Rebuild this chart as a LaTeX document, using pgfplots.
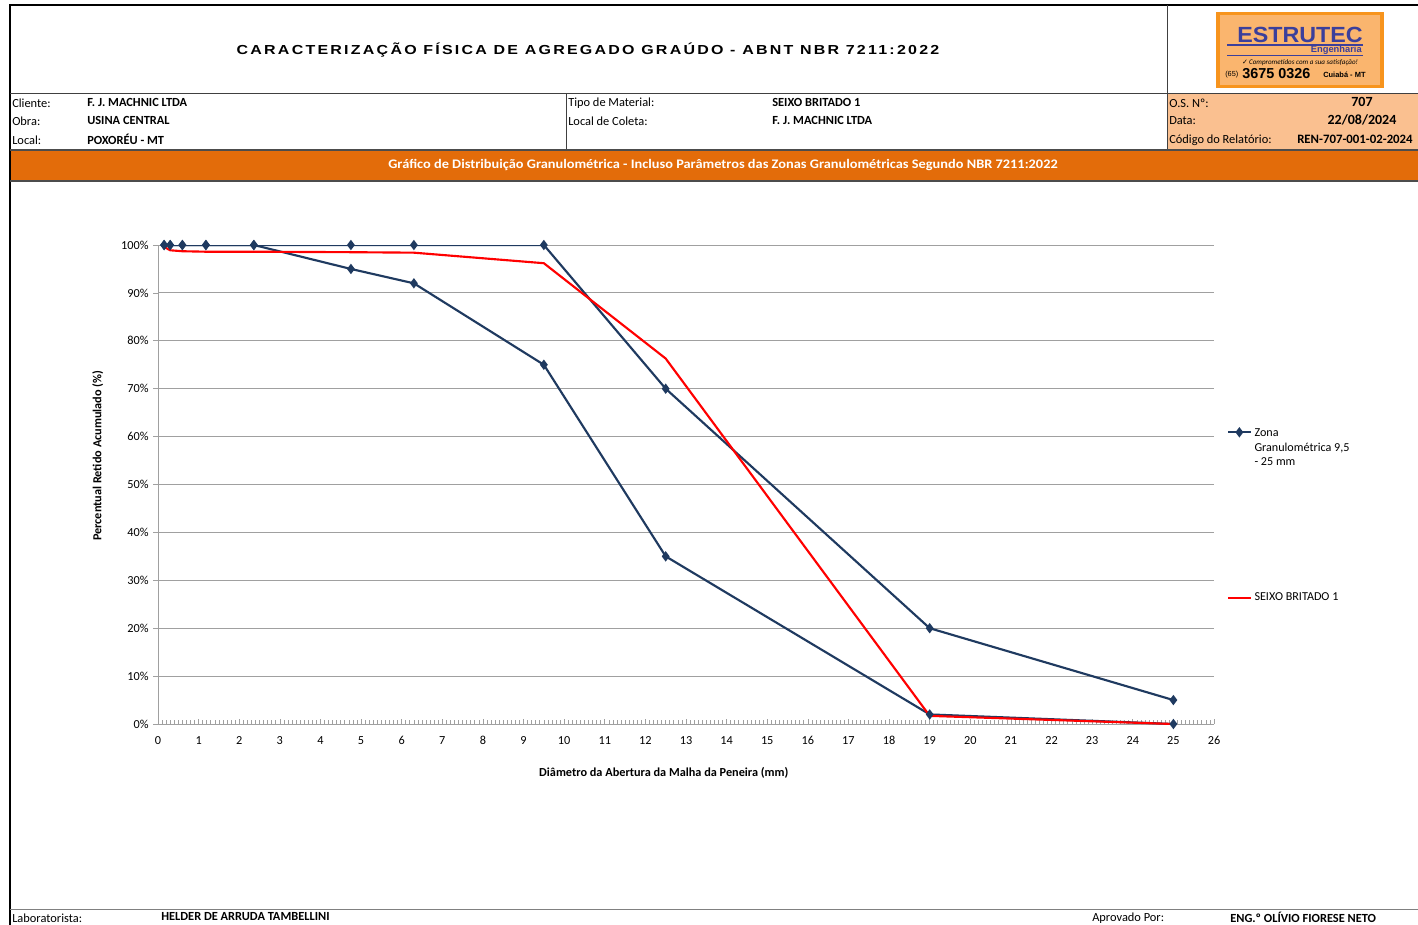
\documentclass[border=0pt]{standalone}
\usepackage{pgfplots}
\pgfplotsset{compat=1.18}
\usepackage{fontspec}
\setmainfont{Carlito}
\newfontfamily\titlefont[LetterSpace=14]{Liberation Sans}
\newfontfamily\dejavu{DejaVu Sans}
\newfontfamily\logofont{Liberation Sans}
\definecolor{navy}{HTML}{1F3A60}
\definecolor{exred}{HTML}{FF0000}
\definecolor{barorange}{HTML}{E36C0A}
\definecolor{peach}{HTML}{FAC090}
\definecolor{gridgray}{HTML}{A0A0A0}
\definecolor{logoorange}{HTML}{F7941D}
\definecolor{logoinner}{HTML}{FAB56E}
\definecolor{logoblue}{HTML}{3B3F9B}

\pgfplotstableread{
x y
0.15 100
0.3 100
0.6 100
1.18 100
2.36 100
4.75 100
6.3 100
9.5 100
12.5 70
19 20
25 5
}\upperzone
\pgfplotstableread{
x y
0.15 100
0.3 100
0.6 100
1.18 100
2.36 100
4.75 95
6.3 92
9.5 75
12.5 35
19 2
25 0
}\lowerzone
\pgfplotstableread{
x y
0.15 99.6
0.3 98.9
0.6 98.7
1.18 98.6
2.36 98.6
4.75 98.5
6.3 98.4
9.5 96.2
12.5 76.3
19 1.7
25 0
}\seixo

\begin{document}
\begin{tikzpicture}
\begin{scope}[x=0.75pt,y=-0.75pt]
\useasboundingbox (0,0) rectangle (1418,925);
\fill[white] (0,0) rectangle (1418,925);
% shaded blocks
\fill[peach] (1167,93) rectangle (1418,150);
\fill[barorange] (10,150) rectangle (1418,181);
% frame lines
\draw[line width=1.5pt] (10,925) -- (10,5) -- (1418,5);
\draw[line width=0.6pt, black!75] (10,93) -- (1418,93);
\draw[line width=0.6pt, black!75] (1167,5) -- (1167,150);
\draw[line width=0.6pt, black!75] (566,93) -- (566,150);
\draw[line width=0.8pt, black!70] (10,150) -- (1418,150);
\draw[line width=0.8pt, black!70] (10,181) -- (1418,181);
\draw[line width=0.6pt, gray] (10,909) -- (1418,909);
% title
\node[anchor=center, inner sep=0pt] at (588,50) {\resizebox{527pt}{\height}{\fontsize{9.8pt}{11pt}\titlefont\bfseries CARACTERIZAÇÃO FÍSICA DE AGREGADO GRAÚDO - ABNT NBR 7211:2022}};
% logo
\fill[logoorange] (1216,12) rectangle (1384,88);
\fill[logoinner] (1220,15) rectangle (1380,85);
\node[logoblue, inner sep=0pt] at (1300,35) {\resizebox{94pt}{11.5pt}{\fontsize{14pt}{14pt}\logofont\bfseries ESTRUTEC}};
\draw[logoblue, line width=1pt] (1227,45) -- (1363,45);
\node[logoblue, inner sep=0pt, anchor=east] at (1362,50.5) {\fontsize{7pt}{7pt}\logofont\bfseries Engenharia};
\draw[logoblue, line width=0.8pt] (1227,55.5) -- (1363,55.5);
\node[inner sep=0pt] at (1300,63) {\fontsize{5.3pt}{5.3pt}\selectfont{\dejavu ✓}\,\itshape Comprometidos com a sua satisfação!};
\node[inner sep=0pt, anchor=west] at (1225,75) {\fontsize{5.5pt}{5.5pt}\logofont (65)};
\node[inner sep=0pt, anchor=west] at (1242,74) {\fontsize{10.8pt}{10.8pt}\logofont\bfseries 3675 0326};
\node[inner sep=0pt, anchor=west] at (1323,75) {\fontsize{5.6pt}{5.6pt}\logofont\bfseries Cuiabá - MT};
% info rows
\begin{scope}[every node/.style={inner sep=0pt, anchor=west, font=\fontsize{9.3pt}{10pt}\selectfont}]
\node at (12,103) {Cliente:};
\node at (12,121) {Obra:};
\node at (12,140) {Local:};
\node at (87,102) {\bfseries F. J. MACHNIC LTDA};
\node at (87,120) {\bfseries USINA CENTRAL};
\node at (87,139) {\bfseries POXORÉU - MT};
\node at (568,103) {Tipo de Material:};
\node at (568,121) {Local de Coleta:};
\node at (772,102) {\bfseries SEIXO BRITADO 1};
\node at (772,120) {\bfseries F. J. MACHNIC LTDA};
\node at (1169,103) {O.S. Nº:};
\node at (1169,121) {Data:};
\node at (1169,140) {Código do Relatório:};
\node at (1297,139) {\fontsize{9.6pt}{11pt}\bfseries REN-707-001-02-2024};
\node at (12,918) {Laboratorista:};
\node at (161,917) {\bfseries HELDER DE ARRUDA TAMBELLINI};
\node at (1092,918) {Aprovado Por:};
\node at (1230,917) {\bfseries ENG.º OLÍVIO FIORESE NETO};
\end{scope}
\node[inner sep=0pt] at (1362,102) {\fontsize{10.5pt}{11pt}\selectfont\bfseries 707};
\node[inner sep=0pt] at (1362,120) {\fontsize{10.5pt}{11pt}\selectfont\bfseries 22/08/2024};
% orange bar text
\node[inner sep=0pt, text=white] at (723,165) {\resizebox{502pt}{\height}{\fontsize{9.8pt}{11pt}\selectfont\bfseries Gráfico de Distribuição Granulométrica - Incluso Parâmetros das Zonas Granulométricas Segundo NBR 7211:2022}};
\end{scope}

\begin{axis}[
  at={(118.5pt,-543pt)}, anchor=south west,
  scale only axis, width=792pt, height=359.25pt,
  xmin=0, xmax=26, ymin=0, ymax=100,
  axis lines*=left,
  axis line style={-, gridgray, line width=0.7pt},
  xtick={0,1,...,26}, minor x tick num=9,
  ytick={0,10,...,100},
  xtick align=inside, ytick align=outside,
  major tick length=3.5pt, minor tick length=3pt,
  tick style={gridgray, line width=0.5pt},
  yticklabel={\pgfmathprintnumber{\tick}\%},
  ymajorgrids, grid style={gridgray, line width=0.7pt},
  every tick label/.append style={font=\fontsize{9.2pt}{10pt}\selectfont},
  xticklabel style={anchor=base, yshift=-15pt},
  /pgf/number format/assume math mode=true,
  xlabel={\bfseries Diâmetro da Abertura da Malha da Peneira (mm)},
  ylabel={\bfseries Percentual Retido Acumulado (\%)},
  xlabel style={at={(axis description cs:0.479,-0.102)}, anchor=center, font=\fontsize{9.2pt}{10pt}\selectfont},
  ylabel style={at={(axis description cs:-0.057,0.56)}, anchor=center, font=\fontsize{9.2pt}{10pt}\selectfont},
  legend style={at={(1.012,0.628)}, anchor=north west, draw=none, fill=none,
    font=\fontsize{9.1pt}{11pt}\selectfont, row sep=112pt, inner sep=0pt},
  legend cell align=left,
  legend image code/.code={\draw[mark repeat=2,mark phase=2,#1] plot coordinates {(0cm,0cm) (0.3cm,0cm) (0.6cm,0cm)};},
]
\addplot[navy, line width=1.6pt, mark=diamond*, mark size=2.6pt, mark options={solid}] table {\upperzone};
\addlegendentry{\begin{tabular}[t]{@{}l@{}}Zona\\Granulométrica 9,5\\- 25 mm\end{tabular}}
\addplot[navy, line width=1.6pt, mark=diamond*, mark size=2.6pt, mark options={solid}, forget plot] table {\lowerzone};
\addplot[exred, line width=1.6pt] table {\seixo};
\addlegendentry{SEIXO BRITADO 1}
\end{axis}
\end{tikzpicture}
\end{document}
